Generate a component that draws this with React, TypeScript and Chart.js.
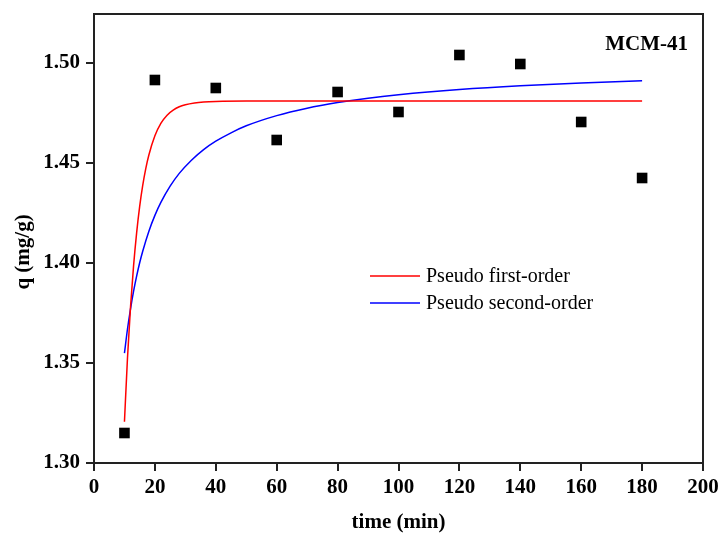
import React, { useEffect, useRef } from "react";
import { Chart, registerables } from "chart.js";

Chart.register(...registerables);

// Experimental data (MCM-41)
const times = [10, 20, 40, 60, 80, 100, 120, 140, 160, 180];
const qExp = [1.315, 1.4915, 1.4875, 1.4615, 1.4855, 1.4755, 1.504, 1.4995, 1.4705, 1.4425];

// Pseudo first-order curve
const pfoTimes = [10, 11, 12, 13, 14, 15, 16, 17, 18, 20, 22, 24, 26, 28, 30, 33, 36, 40, 50, 60, 80, 100, 120, 140, 160, 180];
const pfoQ = [1.3206, 1.3526, 1.3782, 1.3987, 1.4151, 1.4283, 1.4388, 1.4472, 1.4539, 1.4636, 1.4699, 1.4739, 1.4764, 1.4781, 1.4791, 1.48, 1.4805, 1.4808, 1.481, 1.481, 1.481, 1.481, 1.481, 1.481, 1.481, 1.481];

// Pseudo second-order curve
const psoTimes = [10, 11, 12, 13, 14, 15, 16, 18, 20, 22, 25, 28, 32, 36, 40, 45, 50, 60, 70, 80, 90, 100, 120, 140, 160, 180];
const psoQ = [1.3549, 1.367, 1.3771, 1.3859, 1.3934, 1.4001, 1.4059, 1.4158, 1.4238, 1.4304, 1.4384, 1.4448, 1.4514, 1.4567, 1.4609, 1.4651, 1.4686, 1.4737, 1.4774, 1.4802, 1.4824, 1.4841, 1.4867, 1.4886, 1.49, 1.4911];

const yTicks = [1.3, 1.35, 1.4, 1.45, 1.5];
const xTicks = [0, 20, 40, 60, 80, 100, 120, 140, 160, 180, 200];

const legendLabels = ["Pseudo first-order", "Pseudo second-order"];
const sampleLabel = "MCM-41";
const xTitle = "time (min)";
const yTitle = "q (mg/g)";

const SERIF = '"Liberation Serif", "Times New Roman", serif';
const AXIS = "#222";

export default function App() {
  const ref = useRef<HTMLCanvasElement | null>(null);

  useEffect(() => {
    if (!ref.current) return;
    const overlay = {
      id: "overlay",
      afterDraw(chart: any) {
        const { ctx, chartArea } = chart;
        const { left, top, right, bottom } = chartArea;
        ctx.save();
        // frame
        ctx.strokeStyle = AXIS;
        ctx.lineWidth = 2;
        ctx.strokeRect(left, top, right - left, bottom - top);
        // sample label
        ctx.fillStyle = "#000";
        ctx.font = `bold 21px ${SERIF}`;
        ctx.textAlign = "right";
        ctx.textBaseline = "alphabetic";
        ctx.fillText(sampleLabel, right - 15, top + 36);
        // legend
        const colors = ["#ff0000", "#0000ff"];
        const ys = [top + 262, top + 289];
        ctx.font = `20px ${SERIF}`;
        ctx.textAlign = "left";
        ctx.textBaseline = "middle";
        legendLabels.forEach((lab, i) => {
          ctx.strokeStyle = colors[i];
          ctx.lineWidth = 1.5;
          ctx.beginPath();
          ctx.moveTo(left + 276, ys[i]);
          ctx.lineTo(left + 326, ys[i]);
          ctx.stroke();
          ctx.fillStyle = "#000";
          ctx.fillText(lab, left + 332, ys[i] + 1);
        });
        // y title
        ctx.save();
        ctx.translate(24, 252);
        ctx.rotate(-Math.PI / 2);
        ctx.font = `bold 21px ${SERIF}`;
        ctx.textAlign = "center";
        ctx.textBaseline = "middle";
        ctx.fillStyle = "#000";
        ctx.fillText(yTitle, 0, 0);
        ctx.restore();
        ctx.restore();
      },
    };

    const chart = new Chart(ref.current, {
      type: "scatter",
      data: {
        datasets: [
          {
            label: "data",
            data: times.map((t, i) => ({ x: t, y: qExp[i] })),
            pointStyle: "rect",
            pointRadius: 7.5,
            pointBorderWidth: 0,
            backgroundColor: "#000",
            borderColor: "#000",
            showLine: false,
            order: 0,
          },
          {
            label: legendLabels[0],
            data: pfoTimes.map((t, i) => ({ x: t, y: pfoQ[i] })),
            showLine: true,
            borderColor: "#ff0000",
            borderWidth: 1.5,
            pointRadius: 0,
            cubicInterpolationMode: "monotone",
            order: 1,
          },
          {
            label: legendLabels[1],
            data: psoTimes.map((t, i) => ({ x: t, y: psoQ[i] })),
            showLine: true,
            borderColor: "#0000ff",
            borderWidth: 1.5,
            pointRadius: 0,
            cubicInterpolationMode: "monotone",
            order: 2,
          },
        ],
      },
      options: {
        responsive: false,
        animation: false,
        layout: { padding: { top: 14, right: 19, left: 0, bottom: 0 } },
        plugins: { legend: { display: false }, tooltip: { enabled: false } },
        scales: {
          x: {
            type: "linear",
            min: 0,
            max: 200,
            afterBuildTicks: (s: any) => {
              s.ticks = xTicks.map((v) => ({ value: v }));
            },
            afterFit: (s: any) => {
              s.height = 72;
              s.paddingLeft = 0;
              s.paddingRight = 0;
              s.paddingTop = 0;
              s.paddingBottom = 0;
            },
            ticks: {
              font: { family: SERIF, size: 21, weight: "bold" },
              color: "#000",
              padding: 4,
              maxRotation: 0,
              autoSkip: false,
              callback: (v: any) => String(v),
            },
            grid: {
              display: true,
              drawOnChartArea: false,
              drawTicks: true,
              tickLength: 8,
              color: AXIS,
              lineWidth: 2,
            },
            border: { display: true, color: AXIS, width: 2 },
            title: {
              display: true,
              text: xTitle,
              font: { family: SERIF, size: 21, weight: "bold" },
              color: "#000",
              padding: { top: 0, bottom: 0 },
            },
          },
          y: {
            type: "linear",
            min: 1.3,
            max: 1.5245,
            afterBuildTicks: (s: any) => {
              s.ticks = yTicks.map((v) => ({ value: v }));
            },
            afterFit: (s: any) => {
              s.width = 94;
              s.paddingLeft = 0;
              s.paddingRight = 0;
              s.paddingTop = 0;
              s.paddingBottom = 0;
            },
            ticks: {
              font: { family: SERIF, size: 21, weight: "bold" },
              color: "#000",
              padding: 6,
              autoSkip: false,
              callback: (v: any) => Number(v).toFixed(2),
            },
            grid: {
              display: true,
              drawOnChartArea: false,
              drawTicks: true,
              tickLength: 8,
              color: AXIS,
              lineWidth: 2,
            },
            border: { display: true, color: AXIS, width: 2 },
          },
        },
      },
      plugins: [overlay],
    } as any);
    return () => chart.destroy();
  }, []);

  return (
    <div style={{ position: "absolute", left: 0, top: 0, width: 722, height: 535, background: "#fff" }}>
      <canvas ref={ref} width={722} height={535} style={{ width: 722, height: 535 }} />
    </div>
  );
}
